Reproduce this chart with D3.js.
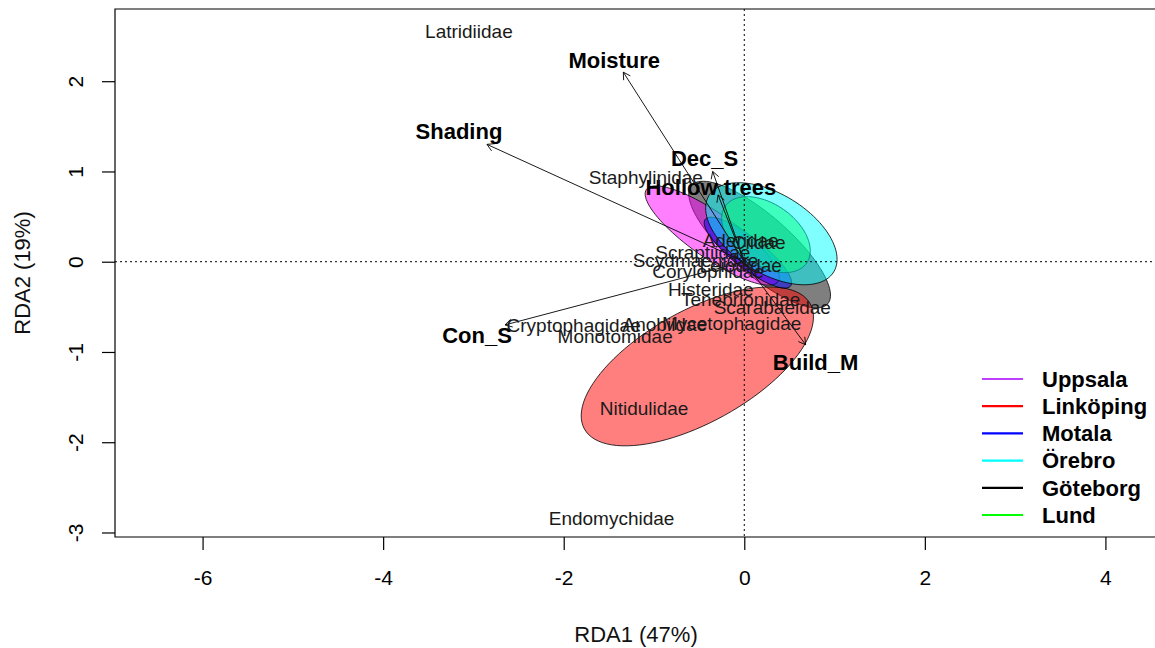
<!DOCTYPE html>
<html>
<head>
<meta charset="utf-8">
<script src="https://cdn.jsdelivr.net/npm/d3@7"></script>
<style>
	body { margin: 0; background: #fff; }
	svg { display: block; font-family: "Liberation Sans", Arial, sans-serif; }
	.axis text { fill: #000; }
	.species { font-size: 19px; fill: #1a1a1a; }
	.envlab { font-size: 22px; font-weight: bold; fill: #000; }
	.legend text { font-size: 22px; font-weight: bold; fill: #000; }
</style>
</head>
<body>
<div class="chart"><svg></svg></div>
<script>
// DATA
var xTicks = [-6, -4, -2, 0, 2, 4];
var yTicks = [-3, -2, -1, 0, 1, 2];

// species scores (RDA1, RDA2)
var speciesNames = ["Latridiidae", "Staphylinidae", "Aderidae", "Ciidae", "Scraptiidae", "Scydmaenidae",
	"Corylophidae", "Leiodidae", "Histeridae", "Tenebrionidae", "Scarabaeidae", "Cryptophagidae",
	"Anobiidae", "Mycetophagidae", "Monotomidae", "Nitidulidae", "Endomychidae"];
var speciesX = [-3.05, -1.09, -0.04, 0.16, -0.46, -0.54, -0.40, -0.04, -0.37, -0.04, 0.31, -1.89,
	-0.88, -0.14, -1.43, -1.11, -1.47];
var speciesY = [2.55, 0.93, 0.24, 0.22, 0.10, 0.02, -0.11, -0.04, -0.31, -0.42, -0.51, -0.70,
	-0.69, -0.68, -0.83, -1.62, -2.84];

// environmental arrows: tip and label position
var envNames = ["Moisture", "Shading", "Dec_S", "Hollow trees", "Con_S", "Build_M"];
var envX = [-1.34, -2.85, -0.35, -0.29, -2.65, 0.68];
var envY = [2.10, 1.30, 1.00, 0.74, -0.70, -0.92];
var envLabX = [-1.44, -3.16, -0.44, -0.37, -2.96, 0.79];
var envLabY = [2.23, 1.44, 1.15, 0.82, -0.82, -1.11];

// site ellipses (drawing order)
var ellSites = ["Göteborg", "Linköping", "Uppsala", "Motala", "Lund", "Örebro"];
var ellCx = [0.17, -0.52, -0.355, 0.04, 0.24, 0.30];
var ellCy = [0.19, -1.16, 0.29, 0.10, 0.30, 0.31];
var ellA = [1.00, 1.43, 0.89, 0.60, 0.55, 0.81];
var ellB = [0.33, 0.62, 0.25, 0.17, 0.34, 0.44];
var ellAngle = [-41, 29, -35, -38, -35, -31.5];

var legendSites = ["Uppsala", "Linköping", "Motala", "Örebro", "Göteborg", "Lund"];

(function() {

	var siteFill = {
		"Uppsala": "#ff00ff", "Linköping": "#ff0000", "Motala": "#0000ff",
		"Örebro": "#00ffff", "Göteborg": "#000000", "Lund": "#00ff00"
	};
	var siteLine = {
		"Uppsala": "#bf3eff", "Linköping": "#ff0000", "Motala": "#0000ff",
		"Örebro": "#00ffff", "Göteborg": "#000000", "Lund": "#00ff00"
	};

	var W = 1155, H = 648;
	var box = {left: 115, right: 1165, top: 9, bottom: 537};

	var svg = d3.select('.chart svg')
		.attr('width', W)
		.attr('height', H);

	var x = d3.scaleLinear().domain([-6.97, 4.66]).range([box.left, box.right]);
	var y = d3.scaleLinear().domain([-3.05, 2.80]).range([box.bottom, box.top]);

	// plain hyphen minus, integer ticks like R
	var fmt = function(d) { return String(d); };

	// ELLIPSES
	function ellipsePoints(i) {
		var pts = [];
		var th = ellAngle[i] * Math.PI / 180;
		for (var k = 0; k <= 100; k++) {
			var t = 2 * Math.PI * k / 100;
			var u = ellA[i] * Math.cos(t), v = ellB[i] * Math.sin(t);
			pts.push([ellCx[i] + u * Math.cos(th) - v * Math.sin(th),
				ellCy[i] + u * Math.sin(th) + v * Math.cos(th)]);
		}
		return pts;
	}

	var line = d3.line()
		.x(function(d) { return x(d[0]); })
		.y(function(d) { return y(d[1]); });

	var plot = svg.append('g');

	plot.selectAll('.ell')
		.data(ellSites)
		.enter()
		.append('path')
		.attr('class', 'ell')
		.attr('d', function(d, i) { return line(ellipsePoints(i)) + 'Z'; })
		.attr('fill', function(d) { return siteFill[d]; })
		.attr('fill-opacity', 0.5)
		.attr('stroke', '#000')
		.attr('stroke-width', 0.8);

	// zero lines
	plot.append('line')
		.attr('x1', x(0)).attr('x2', x(0))
		.attr('y1', box.top).attr('y2', box.bottom)
		.attr('stroke', '#000').attr('stroke-dasharray', '2,3');
	plot.append('line')
		.attr('x1', box.left).attr('x2', box.right)
		.attr('y1', y(0)).attr('y2', y(0))
		.attr('stroke', '#000').attr('stroke-dasharray', '2,3');

	// ARROWS
	var arrows = plot.selectAll('.env')
		.data(envNames)
		.enter()
		.append('g')
		.attr('class', 'env');

	arrows.append('line')
		.attr('x1', x(0)).attr('y1', y(0))
		.attr('x2', function(d, i) { return x(envX[i]); })
		.attr('y2', function(d, i) { return y(envY[i]); })
		.attr('stroke', '#000')
		.attr('stroke-width', 0.9);

	arrows.append('path')
		.attr('d', function(d, i) {
			var tx = x(envX[i]), ty = y(envY[i]);
			var ang = Math.atan2(ty - y(0), tx - x(0));
			var len = 8, sp = Math.PI / 6;
			return 'M' + (tx - len * Math.cos(ang - sp)) + ',' + (ty - len * Math.sin(ang - sp)) +
				'L' + tx + ',' + ty +
				'L' + (tx - len * Math.cos(ang + sp)) + ',' + (ty - len * Math.sin(ang + sp));
		})
		.attr('fill', 'none')
		.attr('stroke', '#000')
		.attr('stroke-width', 0.9);

	// species labels
	plot.selectAll('.species')
		.data(speciesNames)
		.enter()
		.append('text')
		.attr('class', 'species')
		.attr('x', function(d, i) { return x(speciesX[i]); })
		.attr('y', function(d, i) { return y(speciesY[i]); })
		.attr('dy', '0.35em')
		.attr('text-anchor', 'middle')
		.text(function(d) { return d; });

	arrows.append('text')
		.attr('class', 'envlab')
		.attr('x', function(d, i) { return x(envLabX[i]); })
		.attr('y', function(d, i) { return y(envLabY[i]); })
		.attr('dy', '0.35em')
		.attr('text-anchor', 'middle')
		.text(function(d) { return d; });

	// BOX + AXES
	svg.append('path')
		.attr('d', 'M' + box.right + ',' + box.top + 'H' + box.left + 'V' + box.bottom + 'H' + box.right)
		.attr('fill', 'none')
		.attr('stroke', '#000')
		.attr('stroke-width', 1.2);

	var xaxis = svg.append('g')
		.attr('class', 'axis')
		.attr('transform', 'translate(0,' + box.bottom + ')')
		.call(d3.axisBottom(x).tickValues(xTicks).tickFormat(fmt).tickSize(13));
	xaxis.select('.domain').remove();
	xaxis.selectAll('text').attr('font-size', 21).attr('font-family', null).attr('dy', '0.35em').attr('y', 41);

	var yaxis = svg.append('g')
		.attr('class', 'axis')
		.attr('transform', 'translate(' + box.left + ',0)')
		.call(d3.axisLeft(y).tickValues(yTicks).tickFormat(fmt).tickSize(13));
	yaxis.select('.domain').remove();
	yaxis.selectAll('text')
		.attr('font-size', 21).attr('font-family', null)
		.attr('x', null).attr('dy', null)
		.attr('text-anchor', 'middle')
		.attr('dominant-baseline', 'central')
		.attr('transform', 'translate(-40,0) rotate(-90)');

	svg.selectAll('.axis line').attr('stroke', '#000').attr('stroke-width', 1.2);

	// axis titles
	svg.append('text')
		.attr('x', 636).attr('y', 634)
		.attr('dy', '0.35em')
		.attr('text-anchor', 'middle')
		.attr('font-size', 22).attr('fill', '#111')
		.text('RDA1 (47%)');
	svg.append('text')
		.attr('transform', 'translate(22,273) rotate(-90)')
		.attr('dy', '0.35em')
		.attr('text-anchor', 'middle')
		.attr('font-size', 22).attr('fill', '#111')
		.text('RDA2 (19%)');

	// LEGEND
	var legend = svg.append('g')
		.attr('class', 'legend')
		.attr('transform', 'translate(982,379)');
	var rows = legend.selectAll('g')
		.data(legendSites)
		.enter()
		.append('g')
		.attr('transform', function(d, i) { return 'translate(0,' + (i * 27.2) + ')'; });
	rows.append('line')
		.attr('x1', 0).attr('x2', 41)
		.attr('stroke', function(d) { return siteLine[d]; })
		.attr('stroke-width', 2.2);
	rows.append('text')
		.attr('x', 60)
		.attr('dy', '0.35em')
		.text(function(d) { return d; });

})()
</script>
</body>
</html>
